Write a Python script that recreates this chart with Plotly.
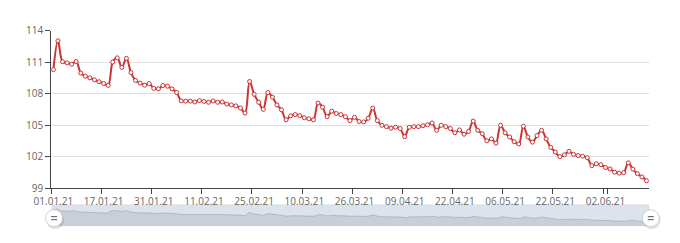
import plotly.graph_objects as go

W, H = 680, 243

dates = [
    "01.01.21", "02.01.21", "04.01.21", "05.01.21", "06.01.21", "08.01.21", "09.01.21", "11.01.21", "12.01.21", "14.01.21", "15.01.21",
    "17.01.21", "18.01.21", "19.01.21", "21.01.21", "22.01.21", "23.01.21", "25.01.21", "26.01.21", "27.01.21", "28.01.21", "30.01.21",
    "31.01.21", "01.02.21", "02.02.21", "03.02.21", "04.02.21", "05.02.21", "06.02.21", "07.02.21", "08.02.21", "09.02.21", "10.02.21",
    "11.02.21", "12.02.21", "13.02.21", "15.02.21", "16.02.21", "17.02.21", "18.02.21", "19.02.21", "21.02.21", "22.02.21", "23.02.21",
    "25.02.21", "26.02.21", "27.02.21", "01.03.21", "02.03.21", "03.03.21", "04.03.21", "05.03.21", "06.03.21", "08.03.21", "09.03.21",
    "10.03.21", "11.03.21", "12.03.21", "14.03.21", "15.03.21", "16.03.21", "18.03.21", "19.03.21", "21.03.21", "22.03.21", "24.03.21",
    "26.03.21", "27.03.21", "29.03.21", "30.03.21", "31.03.21", "01.04.21", "02.04.21", "04.04.21", "05.04.21", "06.04.21", "08.04.21",
    "09.04.21", "10.04.21", "12.04.21", "13.04.21", "14.04.21", "15.04.21", "16.04.21", "18.04.21", "19.04.21", "20.04.21", "21.04.21",
    "22.04.21", "23.04.21", "25.04.21", "26.04.21", "27.04.21", "28.04.21", "29.04.21", "30.04.21", "02.05.21", "03.05.21", "05.05.21",
    "06.05.21", "07.05.21", "09.05.21", "10.05.21", "11.05.21", "13.05.21", "14.05.21", "16.05.21", "17.05.21", "19.05.21", "20.05.21",
    "22.05.21", "23.05.21", "24.05.21", "25.05.21", "26.05.21", "27.05.21", "28.05.21", "29.05.21", "30.05.21", "31.05.21", "01.06.21",
    "02.06.21", "03.06.21", "04.06.21", "06.06.21", "07.06.21", "08.06.21", "09.06.21", "10.06.21", "11.06.21", "13.06.21",
]

values = [
    110.28, 113.02, 111.03, 110.92, 110.79, 111.05, 109.95, 109.65, 109.50, 109.31, 109.13,
    108.96, 108.78, 111.00, 111.40, 110.50, 111.35, 110.00, 109.25, 109.00, 108.80, 108.95,
    108.50, 108.45, 108.76, 108.70, 108.45, 108.10, 107.30, 107.28, 107.28, 107.20, 107.33,
    107.25, 107.17, 107.30, 107.17, 107.20, 107.00, 106.92, 106.83, 106.63, 106.15, 109.15,
    107.93, 107.17, 106.50, 108.10, 107.66, 106.92, 106.45, 105.50, 105.88, 106.00, 105.90,
    105.70, 105.60, 105.50, 107.10, 106.70, 105.80, 106.32, 106.10, 106.00, 105.80, 105.43,
    105.74, 105.34, 105.30, 105.65, 106.62, 105.43, 104.98, 104.85, 104.70, 104.80, 104.67,
    103.90, 104.80, 104.85, 104.85, 104.94, 105.03, 105.20, 104.50, 104.98, 104.85, 104.67,
    104.27, 104.54, 104.13, 104.40, 105.38, 104.50, 104.18, 103.51, 103.69, 103.29, 104.98,
    104.27, 103.87, 103.42, 103.20, 104.89, 103.87, 103.38, 104.00, 104.50, 103.69, 102.88,
    102.44, 102.00, 102.17, 102.50, 102.21, 102.10, 102.04, 101.90, 101.14, 101.32, 101.23,
    100.96, 100.83, 100.52, 100.43, 100.47, 101.41, 100.81, 100.38, 100.07, 99.70,
]

tick_labels = dates[::11]
y_ticks = [99, 102, 105, 108, 111, 114]

LINE_RED = "#cc3333"
AXIS_COL = "#444444"
LABEL_COL = "#666666"
GRID_COL = "#e0e0e0"
FONT = "Open Sans"

x_dom = [35 / W, 648 / W]
y_dom = [1 - 192 / H, 1 - 24 / H]
y2_dom = [1 - 232 / H, 1 - 210 / H]

vmin, vmax = min(values), max(values)
pad = (vmax - vmin) * 0.3

fig = go.Figure()

fig.add_trace(go.Scatter(
    x=dates, y=values, mode="lines+markers",
    line=dict(color=LINE_RED, width=2, shape="spline", smoothing=1.0),
    marker=dict(symbol="circle", size=4, color="white",
                line=dict(color=LINE_RED, width=1)),
    xaxis="x", yaxis="y", hoverinfo="x+y",
))

fig.add_trace(go.Scatter(
    x=dates, y=values, mode="lines", fill="tozeroy",
    line=dict(color="rgba(47,69,84,0.25)", width=0.8, shape="spline", smoothing=1.0),
    fillcolor="rgba(47,69,84,0.12)",
    xaxis="x2", yaxis="y2", hoverinfo="skip",
))

fig.update_layout(
    width=W, height=H,
    margin=dict(l=0, r=0, t=0, b=0),
    paper_bgcolor="white", plot_bgcolor="white",
    showlegend=False,
    font=dict(family=FONT, size=10, color=LABEL_COL),
    xaxis=dict(
        domain=x_dom, anchor="y", type="category",
        range=[-0.5, len(dates) - 0.5],
        tickmode="array", tickvals=tick_labels, ticktext=tick_labels,
        tickson="boundaries",
        showgrid=False, zeroline=False,
        showline=True, linecolor=AXIS_COL, linewidth=1,
        ticks="outside", ticklen=5, tickcolor=AXIS_COL,
        tickfont=dict(family=FONT, size=10, color=LABEL_COL),
        ticklabelstandoff=4,
        tickangle=0,
    ),
    yaxis=dict(
        domain=y_dom, anchor="x",
        range=[99, 114], tickmode="array", tickvals=y_ticks,
        showgrid=True, gridcolor=GRID_COL, gridwidth=1,
        zeroline=False,
        showline=True, linecolor=AXIS_COL, linewidth=1,
        ticks="outside", ticklen=5, tickcolor=AXIS_COL,
        tickfont=dict(family=FONT, size=10, color=LABEL_COL),
    ),
    xaxis2=dict(
        domain=[36 / W, 648 / W], anchor="y2", type="category",
        range=[0, len(dates) - 1],
        showticklabels=False, showgrid=False, zeroline=False, showline=False, ticks="",
    ),
    yaxis2=dict(
        domain=y2_dom, anchor="x2",
        range=[vmin - pad, vmax + pad],
        showticklabels=False, showgrid=False, zeroline=False, showline=False, ticks="",
    ),
)

# slider background (filler)
fig.add_shape(type="rect", xref="x2 domain", yref="y2 domain", x0=0, x1=1, y0=0, y1=1,
              fillcolor="#dde3eb", line=dict(color="#d5dbe3", width=1), layer="below")

# slider handles
for hx in [38 / W, 650 / W]:
    hy = 1 - 224 / H
    fig.add_shape(type="circle", xref="paper", yref="paper",
                  xsizemode="pixel", ysizemode="pixel", xanchor=hx + 1 / W, yanchor=hy - 2 / H,
                  x0=-9, x1=9, y0=-9, y1=9,
                  fillcolor="rgba(0,0,0,0.12)", line=dict(width=0))
    fig.add_shape(type="circle", xref="paper", yref="paper",
                  xsizemode="pixel", ysizemode="pixel", xanchor=hx, yanchor=hy,
                  x0=-8.5, x1=8.5, y0=-8.5, y1=8.5,
                  fillcolor="white", line=dict(color="#c8c8c8", width=0.8))
    for dy in (1.5, -1.5):
        fig.add_shape(type="line", xref="paper", yref="paper",
                      xsizemode="pixel", ysizemode="pixel", xanchor=hx, yanchor=hy,
                      x0=-3, x1=3, y0=dy, y1=dy,
                      line=dict(color="#555555", width=1))

fig.write_html("out.html")
